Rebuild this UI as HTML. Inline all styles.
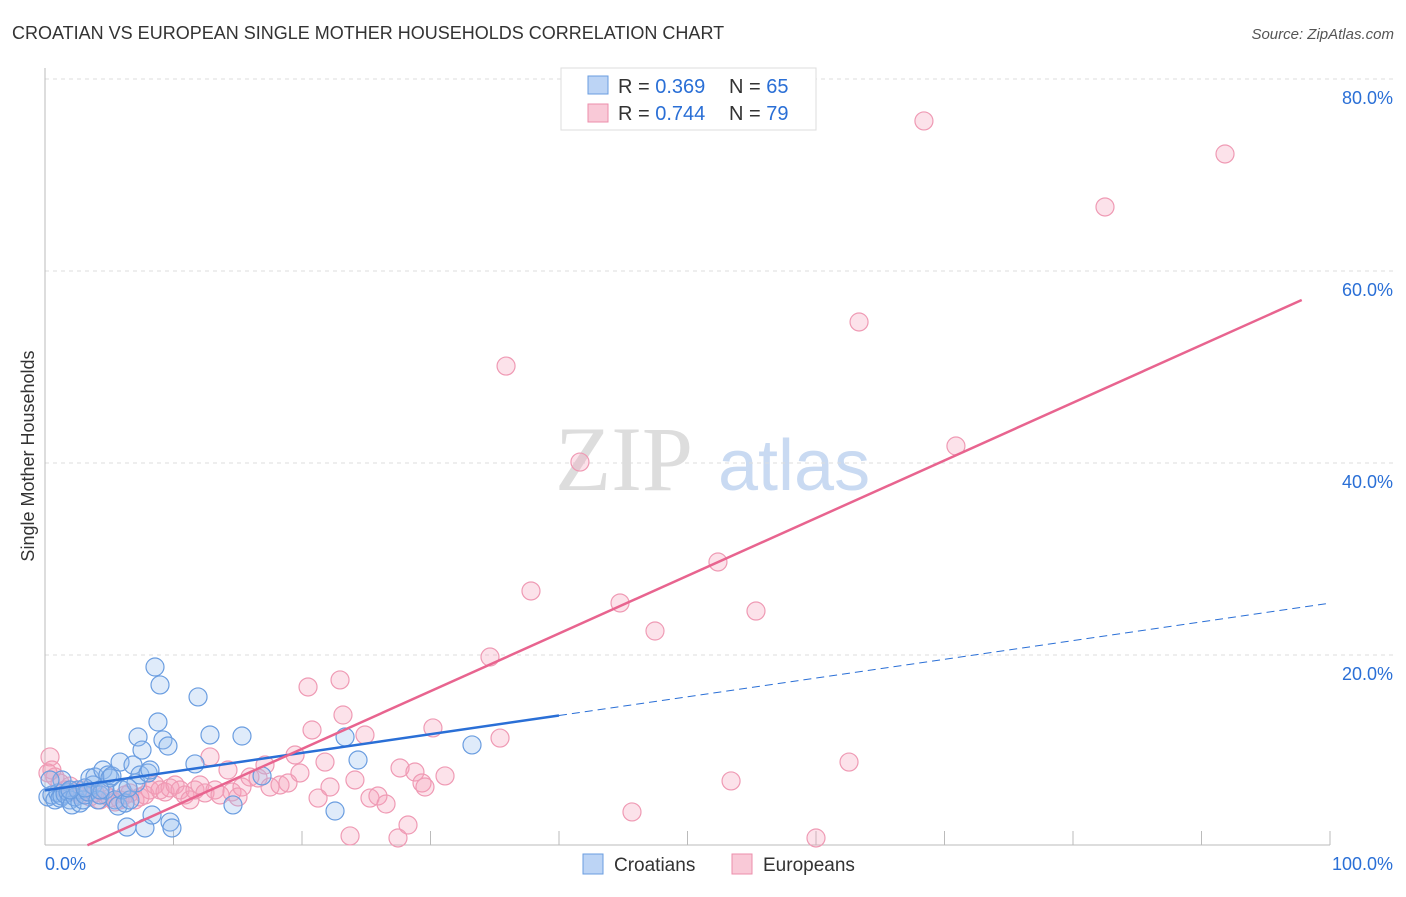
<!DOCTYPE html>
<html><head><meta charset="utf-8"><style>
body{margin:0;background:#fff;font-family:"Liberation Sans",sans-serif}
</style></head><body>
<svg id="c" width="1406" height="892" xmlns="http://www.w3.org/2000/svg">
<text x="12" y="39" font-size="18" fill="#333">CROATIAN VS EUROPEAN SINGLE MOTHER HOUSEHOLDS CORRELATION CHART</text>
<text x="1394" y="39" font-size="15" fill="#555" text-anchor="end" font-style="italic">Source: ZipAtlas.com</text>
<text x="555" y="490" font-size="92" fill="#ddd" font-family="Liberation Serif">ZIP</text>
<text x="718" y="490" font-size="72" fill="#c9daf2">atlas</text>
<text transform="translate(34,456) rotate(-90)" font-size="18" fill="#333" text-anchor="middle">Single Mother Households</text>
<g id="grid"></g><g id="marks"></g>
<g>
<rect x="561" y="68" width="255" height="62" fill="#fff" stroke="#ddd"/>
<rect x="588" y="76" width="20" height="18" fill="#bcd4f5" stroke="#6a9de0"/>
<rect x="588" y="104" width="20" height="18" fill="#f9c9d7" stroke="#ec8eab"/>
<text x="618" y="93" font-size="20" fill="#333">R = <tspan fill="#2a6fd6">0.369</tspan></text>
<text x="729" y="93" font-size="20" fill="#333">N = <tspan fill="#2a6fd6">65</tspan></text>
<text x="618" y="120" font-size="20" fill="#333">R = <tspan fill="#2a6fd6">0.744</tspan></text>
<text x="729" y="120" font-size="20" fill="#333">N = <tspan fill="#2a6fd6">79</tspan></text>
</g>
<g>
<rect x="583" y="854" width="20" height="20" fill="#bcd4f5" stroke="#6a9de0"/>
<text x="614" y="871" font-size="19" fill="#333">Croatians</text>
<rect x="732" y="854" width="20" height="20" fill="#f9c9d7" stroke="#ec8eab"/>
<text x="763" y="871" font-size="19" fill="#333">Europeans</text>
</g>
</svg>
<script>
const yTicks=[20,40,60,80];
const yTickLabels=["20.0%","40.0%","60.0%","80.0%"];
const xTicks=[0,10,20,30,40,50,60,70,80,90,100];
const bluePx=[[48,797],[52,795],[55,800],[58,793],[60,798],[62,796],[65,794],[68,792],[70,800],[72,805],[75,797],[78,790],[80,803],[83,800],[85,795],[88,792],[90,778],[93,785],[95,777],[98,800],[100,795],[103,770],[105,790],[108,775],[110,778],[112,776],[115,800],[118,806],[120,762],[122,790],[125,803],[127,827],[130,800],[133,765],[136,783],[138,737],[140,775],[142,750],[145,828],[148,773],[150,770],[152,815],[155,667],[158,722],[160,685],[163,740],[168,746],[170,822],[172,828],[195,764],[198,697],[210,735],[233,805],[242,736],[262,776],[335,811],[345,737],[358,760],[472,745],[62,780],[70,790],[85,788],[50,780],[100,790],[128,788]];
const pinkPx=[[50,757],[52,770],[55,777],[60,783],[65,790],[70,786],[75,792],[80,795],[85,790],[90,797],[95,793],[100,800],[105,795],[110,798],[115,802],[120,800],[125,795],[130,793],[135,800],[140,797],[145,795],[150,790],[155,785],[160,790],[165,792],[170,788],[175,785],[180,790],[185,795],[190,800],[195,790],[200,785],[205,793],[210,757],[215,790],[220,795],[228,770],[232,792],[238,797],[242,787],[250,777],[258,778],[265,765],[270,787],[280,785],[288,783],[295,755],[300,773],[308,687],[312,730],[318,798],[325,762],[330,787],[340,680],[343,715],[350,836],[355,780],[365,735],[370,798],[378,796],[386,804],[398,838],[400,768],[408,825],[415,772],[422,783],[425,787],[433,728],[445,776],[490,657],[500,738],[506,366],[531,591],[580,462],[620,603],[632,812],[655,631],[718,562],[731,781],[756,611],[816,838],[849,762],[859,322],[924,121],[956,446],[1105,207],[1225,154],[48,773]];
const croatX=bluePx.map(p=>+((p[0]-45)/12.85).toFixed(2));
const croatY=bluePx.map(p=>+((847-p[1])/9.6).toFixed(2));
const euroX=pinkPx.map(p=>+((p[0]-45)/12.85).toFixed(2));
const euroY=pinkPx.map(p=>+((847-p[1])/9.6).toFixed(2));
const blueFit=[5.9,0.195]; const pinkFit=[-1.8,0.601];
const X=v=>45+v*12.85, Y=v=>847-v*9.6;
const NS="http://www.w3.org/2000/svg";
function mk(t,a,p){const e=document.createElementNS(NS,t);for(const k in a)e.setAttribute(k,a[k]);p.appendChild(e);return e;}
const g=document.getElementById('grid'),m=document.getElementById('marks');
yTicks.forEach((t,i)=>{
 const l=mk('line',{x1:45,x2:1394,y1:Y(t),y2:Y(t),stroke:'#ddd','stroke-dasharray':'4,4'},g);
 
 
 const tx=mk('text',{x:1393,y:Y(t)+25,'font-size':18,fill:'#2a6fd6','text-anchor':'end'},g);
 tx.textContent=yTickLabels[i];
 
 
});
mk('line',{x1:45,x2:45,y1:68,y2:845,stroke:'#bbb'},g);
mk('line',{x1:45,x2:1330,y1:845,y2:845,stroke:'#bbb'},g);
xTicks.forEach(t=>{const l=mk('line',{x1:X(t),x2:X(t),y1:831,y2:845,stroke:'#bbb'},g);
 
 });
let t0=mk('text',{x:45,y:870,'font-size':18,fill:'#2a6fd6'},g);t0.textContent='0.0%';


let t1=mk('text',{x:1393,y:870,'font-size':18,fill:'#2a6fd6','text-anchor':'end'},g);t1.textContent='100.0%';


euroX.forEach((x,i)=>{const c=mk('circle',{cx:X(x),cy:Y(euroY[i]),r:9,fill:'rgba(244,160,186,0.3)',stroke:'#ef9ab4','stroke-width':1.2},m);
 
 });
croatX.forEach((x,i)=>{const c=mk('circle',{cx:X(x),cy:Y(croatY[i]),r:9,fill:'rgba(150,190,240,0.3)',stroke:'#6a9de0','stroke-width':1.2},m);
 
 });
const bl=mk('line',{x1:X(0),y1:Y(blueFit[0]),x2:X(40),y2:Y(blueFit[0]+blueFit[1]*40),stroke:'#2a6fd6','stroke-width':2.5},m);


const bd=mk('line',{x1:X(40),y1:Y(blueFit[0]+blueFit[1]*40),x2:X(100),y2:Y(blueFit[0]+blueFit[1]*100),stroke:'#2a6fd6','stroke-width':1,'stroke-dasharray':'8,5'},m);


const pl=mk('line',{x1:X(3.3),y1:Y(pinkFit[0]+pinkFit[1]*3.3),x2:X(97.8),y2:Y(pinkFit[0]+pinkFit[1]*97.8),stroke:'#e8648f','stroke-width':2.5},m);


</script>
</body></html>
